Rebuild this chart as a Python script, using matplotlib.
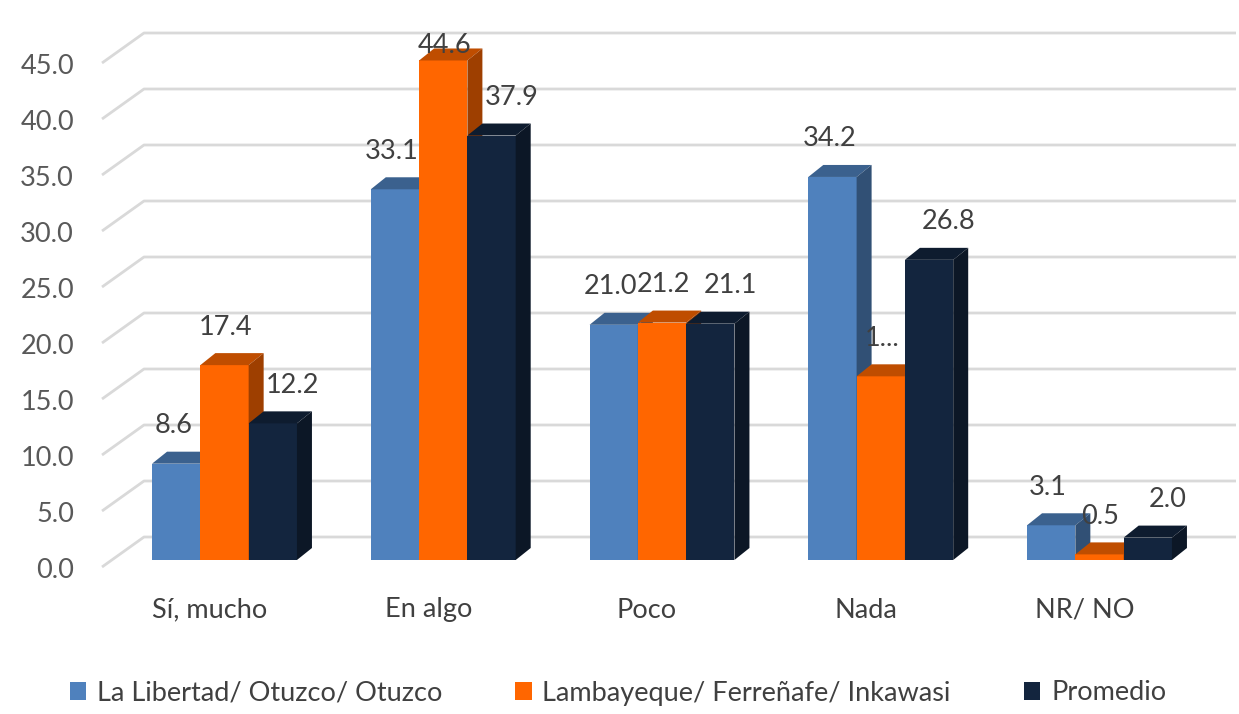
import matplotlib.pyplot as plt
from matplotlib.patches import Polygon, Rectangle
from matplotlib.colors import to_rgb

categories = ["Sí, mucho", "En algo", "Poco", "Nada", "NR/ NO"]
series_names = [
    "La Libertad/ Otuzco/ Otuzco",
    "Lambayeque/ Ferreñafe/ Inkawasi",
    "Promedio",
]
libertad = [8.6, 33.1, 21.0, 34.2, 3.1]
lambayeque = [17.4, 44.6, 21.2, 16.4, 0.5]
promedio = [12.2, 37.9, 21.1, 26.8, 2.0]
y_ticks = [0, 5, 10, 15, 20, 25, 30, 35, 40, 45]

colors = ["#4F81BD", "#FF6600", "#13253E"]
FONT = "Lato"
FS = 19.5

# layout (pixel-derived constants for the fake 3d look)
W, H = 1239, 714
PX_X0, PX_DX = 224.5, 218.75   # group centre of first category, spacing
PX_Y0, PX_DY = 560.0, 11.2     # front floor, pixels per unit
bar_w = 48.3 / PX_DX
dep_x, dep_y = 15 / PX_DX, 12 / PX_DY          # bar depth
wall_x, wall_y = 42 / PX_DX, 30 / PX_DY        # back wall offset from label plane
lab_plane_y = -7 / PX_DY
left_x = (102 - PX_X0) / PX_DX
right_x = (1236 - PX_X0) / PX_DX
label_dx = [-3 / PX_DX, 1 / PX_DX, 20 / PX_DX]  # excel nudges the labels sideways


def shade(c, f):
    r, g, b = to_rgb(c)
    return (r * f, g * f, b * f)


fig = plt.figure(figsize=(W / 100, H / 100), dpi=100)
ax = fig.add_axes([0, 0, 1, 1])
ax.set_xlim(-PX_X0 / PX_DX, (W - PX_X0) / PX_DX)
ax.set_ylim((PX_Y0 - H) / PX_DY, PX_Y0 / PX_DY)
ax.axis("off")

# back wall gridlines + left diagonal
for t in y_ticks:
    y0 = t + lab_plane_y
    ax.plot([left_x, left_x + wall_x, right_x], [y0, y0 + wall_y, y0 + wall_y],
            color="#D9D9D9", lw=2, solid_capstyle="butt", zorder=1)
    ax.text(left_x - 28 / PX_DX, t - 10 / PX_DY, f"{t:.1f}", ha="right", va="center",
            fontsize=FS, color="#595959", family=FONT)

# bars
all_series = [libertad, lambayeque, promedio]
z = 2
for i in range(len(categories)):
    for s, vals in enumerate(all_series):
        v = vals[i]
        x0 = i + (s - 1.5) * bar_w
        x1 = x0 + bar_w
        c = colors[s]
        ax.add_patch(Rectangle((x0, 0), bar_w, v, facecolor=c, edgecolor="none", zorder=z))
        ax.add_patch(Polygon([(x0, v), (x1, v), (x1 + dep_x, v + dep_y), (x0 + dep_x, v + dep_y)],
                             closed=True, facecolor=shade(c, 0.75), edgecolor="none", zorder=z))
        ax.add_patch(Polygon([(x1, 0), (x1 + dep_x, dep_y), (x1 + dep_x, v + dep_y), (x1, v)],
                             closed=True, facecolor=shade(c, 0.62), edgecolor="none", zorder=z))
        z += 1

# data labels
for i in range(len(categories)):
    for s, vals in enumerate(all_series):
        v = vals[i]
        xc = i + (s - 1) * bar_w + label_dx[s]
        txt = f"{v:.1f}"
        if s == 1 and i == 3:
            txt = "1..."  # truncated in the original
        ax.text(xc, min(v + 3.4, 45.9), txt, ha="center", va="center",
                fontsize=FS, color="#404040", family=FONT, zorder=100)

# category labels
for i, cat in enumerate(categories):
    ax.text(i - 15 / PX_DX, (PX_Y0 - 610) / PX_DY, cat, ha="center", va="center",
            fontsize=FS, color="#404040", family=FONT)

handles = [Rectangle((0, 0), 1, 1, facecolor=c, edgecolor="none") for c in colors]
fig.legend(handles, series_names, loc="center", bbox_to_anchor=(618 / W, 21 / H),
           ncol=3, frameon=False, handlelength=0.6, handleheight=0.6,
           handletextpad=0.4, columnspacing=2.7,
           prop={"family": FONT, "size": FS}, labelcolor="#404040")

fig.savefig("out.png", dpi=100)
